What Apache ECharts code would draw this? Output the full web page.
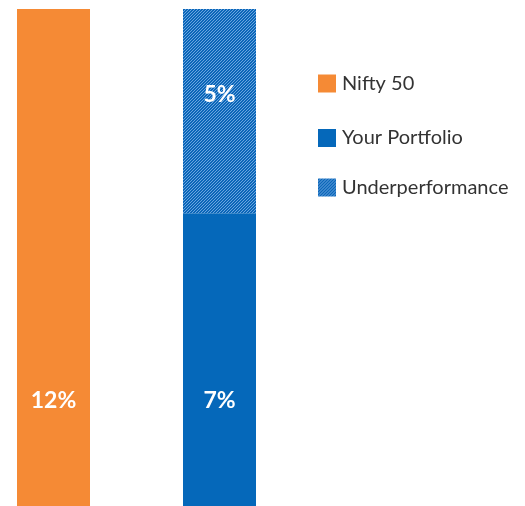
<!DOCTYPE html>
<html><head><meta charset="utf-8">
<script src="https://cdn.jsdelivr.net/npm/echarts@6/dist/echarts.min.js"></script>
<style>html,body{margin:0;padding:0;background:#fff}#c{width:525px;height:506px}</style>
</head><body><div id="c"></div>
<script>
const categories = ['Nifty 50', 'Your Portfolio'];
const niftyValues = [12, '-'];
const portfolioValues = ['-', 7.07];
const underperfValues = ['-', 4.93];
const seriesNames = ['Nifty 50', 'Your Portfolio', 'Underperformance'];

function hatch() {
  const c = document.createElement('canvas');
  c.width = 3; c.height = 3;
  const g = c.getContext('2d');
  g.fillStyle = '#0b66b8';
  g.fillRect(0, 0, 3, 3);
  g.fillStyle = '#6aa5e0';
  g.fillRect(0, 2, 1, 1);
  g.fillRect(1, 1, 1, 1);
  g.fillRect(2, 0, 1, 1);
  return c;
}
const pat = { image: hatch(), repeat: 'repeat' };
const fmt = p => Math.round(p.value) + '%';
const lbl = { show: true, color: '#fff', fontSize: 23, fontWeight: 'bold', fontFamily: 'Lato, "Open Sans", sans-serif', formatter: fmt };

const chart = echarts.init(document.getElementById('c'));
const legendBase = { orient: 'vertical', left: 313, icon: 'rect', itemWidth: 18, itemHeight: 18,
  textStyle: { fontSize: 20, color: '#333', fontFamily: 'Lato, "Open Sans", sans-serif', padding: [0, 0, 0, 1] },
  selectedMode: false };
chart.setOption({
  animation: false,
  grid: { left: 53.5, width: 166, top: 9, bottom: 0 },
  xAxis: { type: 'category', data: categories, show: false, boundaryGap: false },
  yAxis: { type: 'value', min: 0, max: 12, show: false },
  legend: [
    Object.assign({}, legendBase, { top: 68.5, data: [seriesNames[0]] }),
    Object.assign({}, legendBase, { top: 123, data: [seriesNames[1]] }),
    Object.assign({}, legendBase, { top: 172.5, data: [seriesNames[2]] })
  ],
  series: [
    { name: seriesNames[0], type: 'bar', stack: 's', barWidth: 73, clip: false, data: niftyValues,
      itemStyle: { color: '#f58a35' },
      label: Object.assign({}, lbl, { position: 'insideBottom', distance: 94 }) },
    { name: seriesNames[1], type: 'bar', stack: 's', barWidth: 73, clip: false, data: portfolioValues,
      itemStyle: { color: '#0568ba' },
      label: Object.assign({}, lbl, { position: 'insideBottom', distance: 94 }) },
    { name: seriesNames[2], type: 'bar', stack: 's', barWidth: 73, clip: false, data: underperfValues,
      itemStyle: { color: pat },
      label: Object.assign({}, lbl, { position: 'insideTop', distance: 74 }) }
  ]
});
</script></body></html>
